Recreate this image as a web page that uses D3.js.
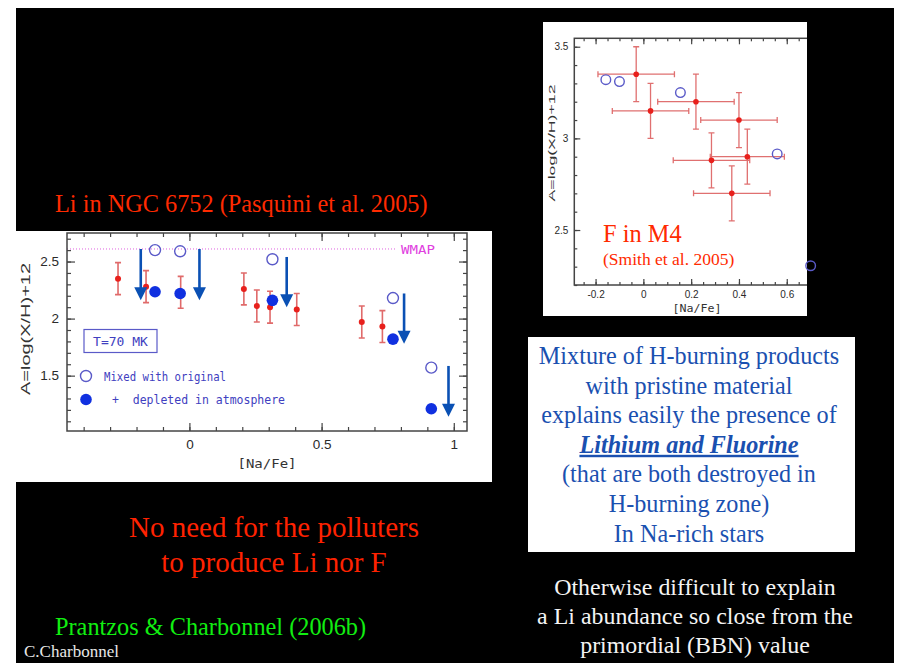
<!DOCTYPE html>
<html>
<head>
<meta charset="utf-8">
<script src="https://cdn.jsdelivr.net/npm/d3@7"></script>
<style>
  body { margin: 0; background: #fff; }
  svg { display: block; }
</style>
</head>
<body>
<script>

// LI IN NGC 6752 - PASQUINI POINTS
var liNa = [-0.27, -0.164, -0.033, 0.206, 0.255, 0.305, 0.406, 0.652, 0.73];
var liA = [2.35, 2.28, 2.23, 2.26, 2.11, 2.10, 2.08, 1.97, 1.93];
var liErr = [0.14, 0.14, 0.14, 0.14, 0.14, 0.14, 0.14, 0.14, 0.14];

// LI MODELS (MIXED / DEPLETED) + ARROWS
var mixNa = [-0.13, -0.035, 0.314, 0.77, 0.915];
var mixA = [2.60, 2.59, 2.52, 2.18, 1.57];
var deplA = [2.235, 2.22, 2.16, 1.82, 1.21];
var arrowNa = [-0.184, 0.038, 0.368, 0.812, 0.98];
var arrowFrom = [2.61, 2.61, 2.54, 2.22, 1.585];
var arrowTo = [2.16, 2.16, 2.10, 1.78, 1.14];
var wmapLi = 2.61;

// F IN M4 - SMITH POINTS
var fNa = [-0.03, 0.03, 0.22, 0.40, 0.285, 0.435, 0.37];
var fA = [3.35, 3.15, 3.20, 3.10, 2.88, 2.90, 2.70];
var fNaErr = [0.16, 0.16, 0.16, 0.16, 0.16, 0.155, 0.16];
var fAErr = [0.15, 0.15, 0.15, 0.15, 0.15, 0.15, 0.15];
var fMixNa = [-0.157, -0.10, 0.155, 0.56, 0.70];
var fMixA = [3.32, 3.31, 3.25, 2.915, 2.305];

// TICK LABELS
var liXTicks = [0, 0.5, 1];
var liYTicks = [1.5, 2, 2.5];
var fXTicks = [-0.2, 0, 0.2, 0.4, 0.6];
var fYTicks = [2.5, 3, 3.5];

var serif = '"Liberation Serif", "Times New Roman", serif';
var sans = '"Liberation Sans", Arial, sans-serif';
var mono = '"DejaVu Sans Mono", monospace';

var svg = d3.select('body').append('svg')
   .attr('width', 899)
   .attr('height', 663);

// SLIDE BACKGROUND
svg.append('rect')
   .attr('x', 16).attr('y', 8)
   .attr('width', 878).attr('height', 655)
   .attr('fill', '#000');

// DRAW A BOXED FRAME WITH INWARD TICKS ON ALL SIDES
function frame(g, x, y, o) {
   var x0 = x.range()[0], x1 = x.range()[1];
   var y0 = y.range()[0], y1 = y.range()[1];
   var fmt = (d) => String(d).replace('−', '-');

   var sides = [
      [d3.axisBottom, x, `translate(0,${y0})`, o.xMajor, x.ticks(o.xMinorN), true],
      [d3.axisTop, x, `translate(0,${y1})`, o.xMajor, x.ticks(o.xMinorN), false],
      [d3.axisLeft, y, `translate(${x0},0)`, o.yMajor, y.ticks(o.yMinorN), true],
      [d3.axisRight, y, `translate(${x1},0)`, o.yMajor, y.ticks(o.yMinorN), false]
   ];

   sides.forEach((s) => {
      // MINOR TICKS
      g.append('g').attr('transform', s[2])
         .call(s[0](s[1]).tickValues(s[4]).tickSize(-o.minor).tickSizeOuter(0).tickFormat(''))
         .call((a) => a.select('.domain').remove());
      // MAJOR TICKS
      var ax = g.append('g').attr('transform', s[2])
         .call(s[0](s[1]).tickValues(s[3]).tickSize(-o.major).tickSizeOuter(0)
            .tickPadding(o.pad).tickFormat(s[5] ? fmt : ''))
         .call((a) => a.select('.domain').remove());
      ax.selectAll('text')
         .attr('font-family', sans)
         .attr('font-size', o.font)
         .attr('fill', '#2a2a2a');
   });

   g.selectAll('.tick line')
      .attr('stroke', '#444')
      .attr('stroke-width', 1.2);

   g.append('rect')
      .attr('x', x0).attr('y', y1)
      .attr('width', x1 - x0).attr('height', y0 - y1)
      .attr('fill', 'none')
      .attr('stroke', '#444')
      .attr('stroke-width', 1.5);
}

// ================= LEFT CHART : LI IN NGC 6752 =================
svg.append('text')
   .attr('x', 55).attr('y', 212)
   .attr('font-family', serif).attr('font-size', 24.3)
   .attr('fill', '#ff2a00')
   .text('Li in NGC 6752 (Pasquini et al. 2005)');

svg.append('rect')
   .attr('x', 15).attr('y', 231)
   .attr('width', 477).attr('height', 251)
   .attr('fill', '#fff');

var lx = d3.scaleLinear().domain([-0.463, 1.05]).range([67, 467]);
var ly = d3.scaleLinear().domain([1.015, 2.75]).range([431, 233]);

var lg = svg.append('g');

// WMAP LINE
lg.append('line')
   .attr('x1', lx.range()[0]).attr('x2', lx(0.78))
   .attr('y1', ly(wmapLi)).attr('y2', ly(wmapLi))
   .attr('stroke', '#e060e0')
   .attr('stroke-width', 1)
   .attr('stroke-dasharray', '1,2');

lg.append('text')
   .attr('x', lx(0.8)).attr('y', ly(wmapLi) + 5)
   .attr('font-family', mono).attr('font-size', 12)
   .attr('fill', '#e040e0')
   .attr('textLength', 34)
   .attr('lengthAdjust', 'spacingAndGlyphs')
   .text('WMAP');

frame(lg, lx, ly, {
   xMajor: liXTicks, yMajor: liYTicks, xMinorN: 15, yMinorN: 17,
   major: 8, minor: 4, pad: 8, font: 13.5
});

// RED ERROR BARS
lg.selectAll('.lierr')
   .data(liNa)
   .enter().append('path')
      .attr('class', 'lierr')
      .attr('d', (d, i) => {
         var x = lx(d), t = ly(liA[i] + liErr[i]), b = ly(liA[i] - liErr[i]);
         return `M${x - 3},${t}H${x + 3}M${x},${t}V${b}M${x - 3},${b}H${x + 3}`;
      })
      .attr('fill', 'none')
      .attr('stroke', '#e06a6a')
      .attr('stroke-width', 1.6);

lg.selectAll('.lidot')
   .data(liNa)
   .enter().append('circle')
      .attr('cx', (d) => lx(d))
      .attr('cy', (d, i) => ly(liA[i]))
      .attr('r', 3)
      .attr('fill', '#e8201c');

// MIXED (OPEN) + DEPLETED (FILLED)
lg.selectAll('.mix')
   .data(mixNa)
   .enter().append('circle')
      .attr('cx', (d) => lx(d))
      .attr('cy', (d, i) => ly(mixA[i]))
      .attr('r', 5.5)
      .attr('fill', 'none')
      .attr('stroke', '#5a5ac8')
      .attr('stroke-width', 1.4);

lg.selectAll('.depl')
   .data(mixNa)
   .enter().append('circle')
      .attr('cx', (d) => lx(d))
      .attr('cy', (d, i) => ly(deplA[i]))
      .attr('r', 5.8)
      .attr('fill', '#1030e0');

// ARROWS
lg.selectAll('.arrline')
   .data(arrowNa)
   .enter().append('line')
      .attr('x1', (d) => lx(d)).attr('x2', (d) => lx(d))
      .attr('y1', (d, i) => ly(arrowFrom[i]))
      .attr('y2', (d, i) => ly(arrowTo[i]) - 10)
      .attr('stroke', '#0a50b4')
      .attr('stroke-width', 2.6);

lg.selectAll('.arrhead')
   .data(arrowNa)
   .enter().append('path')
      .attr('d', (d, i) => {
         var x = lx(d), t = ly(arrowTo[i]);
         return `M${x - 6.5},${t - 13}L${x + 6.5},${t - 13}L${x},${t}Z`;
      })
      .attr('fill', '#0a50b4');

// LEGEND
lg.append('rect')
   .attr('x', 84).attr('y', 329.5)
   .attr('width', 73).attr('height', 23)
   .attr('fill', 'none')
   .attr('stroke', '#5a5ac8')
   .attr('stroke-width', 1.2);

lg.append('text')
   .attr('x', 120.5).attr('y', 346)
   .attr('text-anchor', 'middle')
   .attr('font-family', mono).attr('font-size', 13)
   .attr('fill', '#4040c0')
   .text('T=70 MK');

lg.append('circle')
   .attr('cx', 86).attr('cy', 376).attr('r', 5.5)
   .attr('fill', 'none').attr('stroke', '#5a5ac8').attr('stroke-width', 1.4);

lg.append('text')
   .attr('x', 104).attr('y', 381)
   .attr('font-family', mono).attr('font-size', 12)
   .attr('fill', '#4040c0')
   .attr('textLength', 122)
   .attr('lengthAdjust', 'spacingAndGlyphs')
   .text('Mixed with original');

lg.append('circle')
   .attr('cx', 86).attr('cy', 399.5).attr('r', 5.8)
   .attr('fill', '#1030e0');

lg.append('text')
   .attr('x', 112).attr('y', 404)
   .attr('font-family', mono).attr('font-size', 12)
   .attr('fill', '#4040c0')
   .attr('xml:space', 'preserve')
   .attr('textLength', 173)
   .attr('lengthAdjust', 'spacingAndGlyphs')
   .text('+  depleted in atmosphere');

// AXIS LABELS
lg.append('text')
   .attr('x', 267).attr('y', 468)
   .attr('text-anchor', 'middle')
   .attr('font-family', mono).attr('font-size', 13)
   .attr('fill', '#333')
   .attr('textLength', 59)
   .attr('lengthAdjust', 'spacingAndGlyphs')
   .text('[Na/Fe]');

lg.append('text')
   .attr('transform', 'translate(30,329) rotate(-90)')
   .attr('text-anchor', 'middle')
   .attr('font-family', sans).attr('font-size', 13)
   .attr('fill', '#333')
   .attr('textLength', 132)
   .attr('lengthAdjust', 'spacingAndGlyphs')
   .text('A=log(X/H)+12');

// ================= RIGHT CHART : F IN M4 =================
svg.append('rect')
   .attr('x', 543).attr('y', 22)
   .attr('width', 264).attr('height', 294)
   .attr('fill', '#fff');

svg.append('clipPath').attr('id', 'fclip')
   .append('rect')
      .attr('x', 543).attr('y', 22)
      .attr('width', 264).attr('height', 294);

var fx = d3.scaleLinear().domain([-0.289, 0.75]).range([574.3, 822.6]);
var fy = d3.scaleLinear().domain([2.2, 3.546]).range([285, 38.3]);

var fg = svg.append('g').attr('clip-path', 'url(#fclip)');

frame(fg, fx, fy, {
   xMajor: fXTicks, yMajor: fYTicks, xMinorN: 20, yMinorN: 13,
   major: 6, minor: 3, pad: 6, font: 10
});

fg.selectAll('.ferr')
   .data(fNa)
   .enter().append('path')
      .attr('d', (d, i) => {
         var x = fx(d), y = fy(fA[i]);
         var l = fx(d - fNaErr[i]), r = fx(d + fNaErr[i]);
         var t = fy(fA[i] + fAErr[i]), b = fy(fA[i] - fAErr[i]);
         return `M${l},${y}H${r}M${l},${y - 3}V${y + 3}M${r},${y - 3}V${y + 3}` +
            `M${x},${t}V${b}M${x - 3},${t}H${x + 3}M${x - 3},${b}H${x + 3}`;
      })
      .attr('fill', 'none')
      .attr('stroke', '#e07070')
      .attr('stroke-width', 1.3);

fg.selectAll('.fdot')
   .data(fNa)
   .enter().append('circle')
      .attr('cx', (d) => fx(d))
      .attr('cy', (d, i) => fy(fA[i]))
      .attr('r', 2.8)
      .attr('fill', '#e8201c');

svg.selectAll('.fmix')
   .data(fMixNa)
   .enter().append('circle')
      .attr('cx', (d) => fx(d))
      .attr('cy', (d, i) => fy(fMixA[i]))
      .attr('r', 4.8)
      .attr('fill', 'none')
      .attr('stroke', '#5a5ac8')
      .attr('stroke-width', 1.4);

fg.append('text')
   .attr('x', 697).attr('y', 312)
   .attr('text-anchor', 'middle')
   .attr('font-family', mono).attr('font-size', 10)
   .attr('fill', '#333')
   .attr('textLength', 49)
   .attr('lengthAdjust', 'spacingAndGlyphs')
   .text('[Na/Fe]');

fg.append('text')
   .attr('transform', 'translate(555,143) rotate(-90)')
   .attr('text-anchor', 'middle')
   .attr('font-family', sans).attr('font-size', 9.5)
   .attr('fill', '#333')
   .attr('textLength', 117)
   .attr('lengthAdjust', 'spacingAndGlyphs')
   .text('A=log(X/H)+12');

svg.append('text')
   .attr('x', 603).attr('y', 242)
   .attr('font-family', serif).attr('font-size', 24.4)
   .attr('fill', '#ff2a00')
   .text('F in M4');

svg.append('text')
   .attr('x', 603).attr('y', 265)
   .attr('font-family', serif).attr('font-size', 17.5)
   .attr('fill', '#ff2a00')
   .text('(Smith et al. 2005)');

// ================= TEXT BOX =================
var boxLines = [
   'Mixture of H-burning products',
   'with pristine material',
   'explains easily the presence of',
   'Lithium and Fluorine',
   '(that are both destroyed in',
   'H-burning zone)',
   'In Na-rich stars'
];

svg.append('rect')
   .attr('x', 528).attr('y', 337)
   .attr('width', 327).attr('height', 215)
   .attr('fill', '#fff');

svg.selectAll('.boxline')
   .data(boxLines)
   .enter().append('text')
      .attr('x', 689)
      .attr('y', (d, i) => 364 + i * 29.6)
      .attr('text-anchor', 'middle')
      .attr('font-family', serif).attr('font-size', 24.2)
      .attr('fill', '#1a50b0')
      .attr('font-weight', (d, i) => i === 3 ? 'bold' : 'normal')
      .attr('font-style', (d, i) => i === 3 ? 'italic' : 'normal')
      .attr('text-decoration', (d, i) => i === 3 ? 'underline' : 'none')
      .text((d) => d);

// ================= BOTTOM TEXTS =================
var redLines = ['No need for the polluters', 'to produce Li nor F'];
svg.selectAll('.redline')
   .data(redLines)
   .enter().append('text')
      .attr('x', 274)
      .attr('y', (d, i) => 537 + i * 35)
      .attr('text-anchor', 'middle')
      .attr('font-family', serif).attr('font-size', 29)
      .attr('fill', '#ff2200')
      .text((d) => d);

svg.append('text')
   .attr('x', 55).attr('y', 635)
   .attr('font-family', serif).attr('font-size', 24.3)
   .attr('fill', '#11ee11')
   .text('Prantzos & Charbonnel (2006b)');

svg.append('text')
   .attr('x', 24).attr('y', 657)
   .attr('font-family', serif).attr('font-size', 17)
   .attr('fill', '#e8e8e8')
   .text('C.Charbonnel');

var whiteLines = ['Otherwise difficult to explain', 'a Li abundance so close from the', 'primordial (BBN) value'];
svg.selectAll('.whiteline')
   .data(whiteLines)
   .enter().append('text')
      .attr('x', 695)
      .attr('y', (d, i) => 595 + i * 29)
      .attr('text-anchor', 'middle')
      .attr('font-family', serif).attr('font-size', 23.9)
      .attr('fill', '#f4f4f4')
      .text((d) => d);

</script>
</body>
</html>
